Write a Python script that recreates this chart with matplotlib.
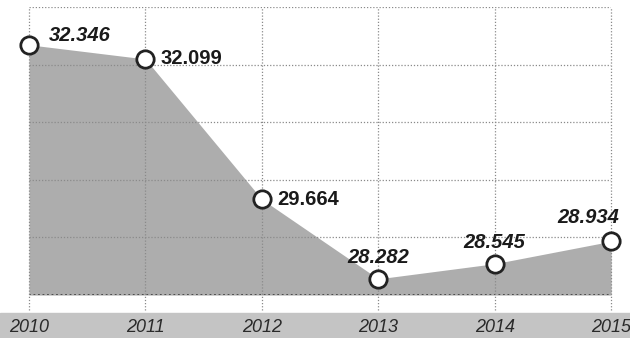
import numpy as np
import matplotlib.pyplot as plt
from matplotlib.patches import Rectangle

# Data
years = [2010, 2011, 2012, 2013, 2014, 2015]
values = [32.346, 32.099, 29.664, 28.282, 28.545, 28.934]
labels = ["32.346", "32.099", "29.664", "28.282", "28.545", "28.934"]
italic = [True, False, False, True, True, True]
# label offsets in points (dx, dy) and alignment
offsets = [(14, 7), (11, 0), (11, 0), (0, 15), (0, 15), (6, 17)]
aligns = ["left", "left", "left", "center", "center", "right"]

fig = plt.figure(figsize=(6.3, 3.38), dpi=100)
ax = fig.add_axes([0.046, 0.127, 0.924, 0.852])

# gray band behind the year labels
fig.patches.append(Rectangle((0, 0), 1, 0.074, transform=fig.transFigure,
                             color="#c4c4c4", zorder=-1))

# Fill under the line
ax.fill_between(years, values, 28, color="#adadad", lw=0, zorder=1)

# Grid
for v in range(28, 34):
    ax.axhline(v, color="#444444" if v == 28 else "#8a8a8a",
               ls=(0, (1, 1.5)), lw=1.3 if v == 28 else 0.9, zorder=2)
ax.vlines(years, 27.74, 33, colors="#8a8a8a", linestyles=(0, (1, 1.5)),
          lw=0.9, clip_on=False, zorder=2)

# Markers
ax.plot(years, values, "o", ms=12.5, mfc="white", mec="#222222", mew=2,
        clip_on=False, zorder=4)

for x, y, t, it, off, ha in zip(years, values, labels, italic, offsets, aligns):
    ax.annotate(t, (x, y), xytext=off, textcoords="offset points",
                ha=ha, va="center", fontsize=14.5, fontweight="bold",
                style="italic" if it else "normal", color="#1a1a1a",
                family="Liberation Sans", zorder=5)

ax.set_xlim(2010, 2015)
ax.set_ylim(28, 33)
ax.set_xticks(years)
ax.set_xticklabels([str(y) for y in years], fontsize=13, style="italic",
                   color="#2a2a2a", family="Liberation Sans")
ax.tick_params(axis="x", length=0, pad=17)
ax.set_yticks([])
for s in ax.spines.values():
    s.set_visible(False)
ax.patch.set_alpha(0)

fig.savefig("out.png", dpi=100)
